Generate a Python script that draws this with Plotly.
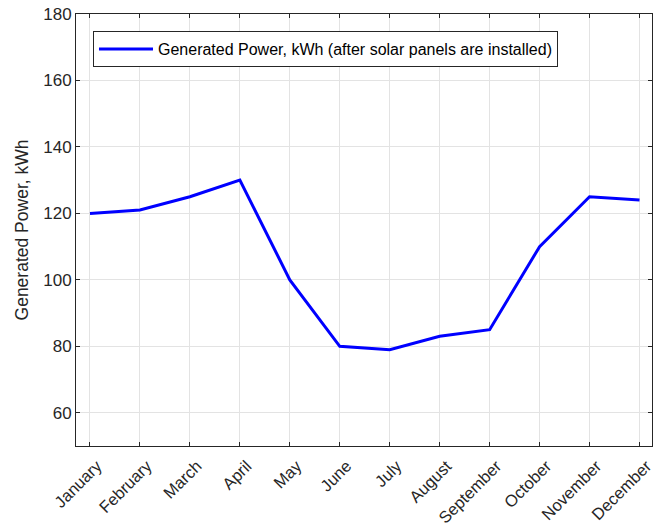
import plotly.graph_objects as go

months = ["January", "February", "March", "April", "May", "June", "July",
          "August", "September", "October", "November", "December"]
power = [120, 121, 125, 130, 100, 80, 79, 83, 85, 110, 125, 124]
y_ticks = [60, 80, 100, 120, 140, 160, 180]

xpos = list(range(1, len(months) + 1))

fig = go.Figure()
fig.add_trace(go.Scatter(
    x=xpos, y=power, mode="lines",
    line=dict(color="#0000FF", width=3),
    name="Generated Power, kWh (after solar panels are installed)",
))

axis_common = dict(
    showline=True, linecolor="#262626", linewidth=1, mirror="ticks",
    ticks="inside", ticklen=4, tickcolor="#262626",
    showgrid=True, gridcolor="#e3e3e3", gridwidth=1,
    zeroline=False, automargin=False,
)

fig.update_layout(
    width=658, height=526,
    margin=dict(l=76, r=6, t=14, b=80),
    paper_bgcolor="white", plot_bgcolor="white",
    font=dict(family="Liberation Sans, Arial", color="#262626"),
    showlegend=True,
    legend=dict(
        x=0.0295, y=0.9606, xanchor="left", yanchor="top",
        bgcolor="white", bordercolor="#262626", borderwidth=1,
        font=dict(size=16, color="#000000"),
        itemwidth=54,
    ),
    xaxis=dict(
        **axis_common,
        range=[0.72, 12.25],
        tickvals=xpos, ticktext=months, tickangle=-45,
        ticklabelshift=7, ticklabelstandoff=3,
        tickfont=dict(family="Liberation Sans, Arial", size=16.5, color="#262626"),
    ),
    yaxis=dict(
        **axis_common,
        range=[50, 180],
        tickvals=y_ticks,
        tickfont=dict(family="Liberation Sans, Arial", size=17, color="#262626"),
        title=dict(text="Generated Power, kWh",
                   font=dict(size=17.5, color="#262626"), standoff=10),
    ),
)

fig.write_html(
    "out.html",
    config={"displayModeBar": False},
    post_script="document.body.style.margin='0';document.body.style.overflow='hidden';",
)
